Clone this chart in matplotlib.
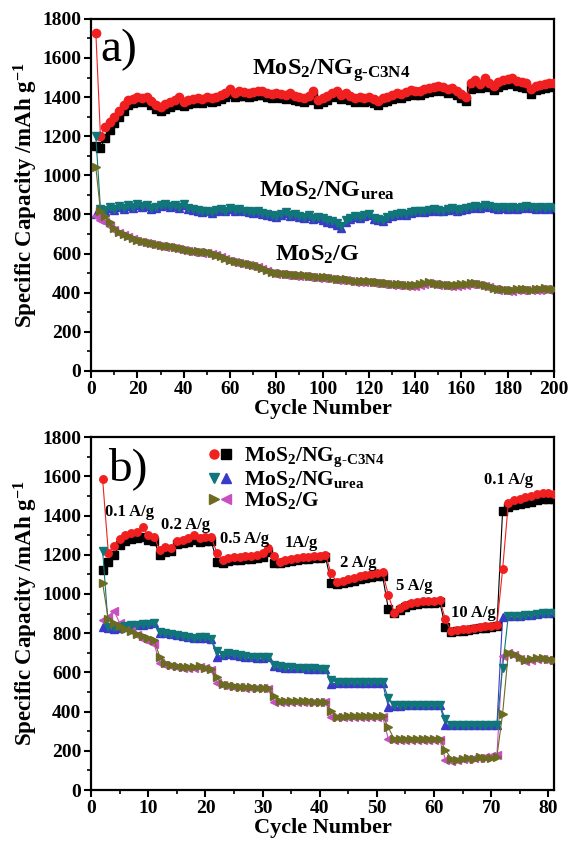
import numpy as np
import matplotlib
matplotlib.use('Agg')
import matplotlib.pyplot as plt
from matplotlib.legend_handler import HandlerTuple
from matplotlib.ticker import MultipleLocator

plt.rcParams['font.family'] = ['Liberation Serif', 'DejaVu Serif']
plt.rcParams['font.weight'] = 'bold'
plt.rcParams['mathtext.fontset'] = 'custom'
plt.rcParams['mathtext.rm'] = 'Liberation Serif:bold'
plt.rcParams['mathtext.it'] = 'Liberation Serif:bold'
plt.rcParams['mathtext.bf'] = 'Liberation Serif:bold'

# ---- panel a: cycling, every 2nd cycle starting at cycle 2 ----
a_red = [1730, 1200, 1245, 1275, 1300, 1330, 1360, 1385, 1390, 1400,
         1395, 1400, 1380, 1360, 1350, 1365, 1375, 1385, 1400, 1375,
         1385, 1390, 1395, 1390, 1400, 1395, 1400, 1410, 1420, 1440,
         1420, 1430, 1425, 1420, 1425, 1430, 1430, 1420, 1415, 1420,
         1415, 1410, 1420, 1405, 1400, 1395, 1405, 1430, 1385, 1395,
         1405, 1420, 1430, 1410, 1420, 1405, 1395, 1400, 1395, 1400,
         1390, 1380, 1395, 1400, 1410, 1420, 1415, 1425, 1435, 1430,
         1430, 1440, 1445, 1450, 1455, 1450, 1440, 1445, 1430, 1415,
         1400, 1470, 1485, 1465, 1500, 1470, 1455, 1475, 1485, 1490,
         1500, 1480, 1475, 1470, 1440, 1455, 1460, 1465, 1470, 1470]
a_black = [1150, 1140, 1190, 1230, 1265, 1300, 1330, 1360, 1370, 1380,
           1375, 1380, 1360, 1340, 1330, 1340, 1350, 1360, 1375, 1355,
           1365, 1370, 1375, 1370, 1380, 1375, 1380, 1390, 1400, 1415,
           1400, 1405, 1405, 1400, 1405, 1410, 1410, 1400, 1395, 1400,
           1395, 1390, 1400, 1385, 1380, 1375, 1385, 1405, 1365, 1375,
           1385, 1400, 1405, 1390, 1400, 1385, 1375, 1380, 1375, 1380,
           1370, 1360, 1375, 1380, 1390, 1400, 1395, 1405, 1415, 1410,
           1410, 1420, 1425, 1430, 1435, 1430, 1420, 1425, 1410, 1395,
           1380, 1440, 1460, 1445, 1470, 1450, 1435, 1450, 1460, 1465,
           1470, 1455, 1450, 1445, 1415, 1435, 1440, 1445, 1450, 1455]
a_teal = [1200, 830, 825, 840, 830, 845, 835, 850, 840, 855,
          845, 850, 835, 840, 850, 855, 845, 850, 840, 855,
          835, 830, 825, 815, 820, 810, 825, 830, 820, 835,
          825, 830, 820, 815, 810, 815, 805, 800, 795, 790,
          800, 810, 795, 800, 790, 785, 795, 780, 785, 780,
          770, 765, 755, 740, 770, 780, 790, 785, 795, 800,
          780, 775, 770, 785, 795, 800, 805, 800, 810, 815,
          820, 815, 825, 830, 825, 820, 830, 835, 825, 830,
          835, 840, 845, 840, 850, 845, 840, 835, 840, 835,
          840, 835, 840, 845, 840, 835, 840, 835, 838, 835]
a_blue = [800, 815, 820, 835, 825, 840, 830, 845, 835, 850,
          840, 845, 830, 835, 845, 850, 840, 845, 835, 850,
          830, 825, 820, 810, 815, 805, 820, 825, 815, 830,
          820, 825, 815, 810, 805, 810, 800, 795, 790, 785,
          795, 805, 790, 795, 785, 780, 790, 775, 780, 770,
          760, 755, 745, 730, 760, 775, 785, 780, 790, 795,
          775, 770, 765, 780, 790, 795, 800, 795, 805, 810,
          815, 810, 820, 825, 820, 815, 825, 830, 820, 825,
          830, 835, 840, 835, 845, 840, 835, 830, 835, 830,
          835, 830, 835, 840, 835, 830, 835, 830, 833, 830]
a_olive = [1040, 820, 790, 760, 730, 710, 700, 690, 680, 670,
           665, 660, 655, 650, 645, 640, 640, 635, 630, 625,
           620, 615, 615, 610, 610, 605, 595, 585, 575, 565,
           560, 555, 550, 545, 540, 535, 525, 515, 505, 500,
           500, 495, 495, 490, 490, 488, 485, 485, 482, 480,
           478, 475, 472, 470, 468, 465, 462, 460, 460, 458,
           455, 452, 450, 448, 446, 444, 442, 440, 438, 440,
           445, 450, 452, 448, 445, 442, 440, 438, 440, 442,
           445, 448, 450, 445, 440, 435, 425, 420, 418, 415,
           415, 418, 420, 418, 416, 418, 420, 422, 420, 420]
a_magenta = [790, 770, 760, 740, 720, 705, 695, 685, 675, 665,
             660, 655, 650, 645, 640, 635, 635, 630, 625, 620,
             615, 610, 610, 605, 605, 600, 590, 580, 570, 560,
             555, 550, 545, 540, 535, 530, 520, 510, 500, 495,
             495, 490, 490, 485, 485, 483, 480, 480, 477, 475,
             473, 470, 467, 465, 463, 460, 457, 455, 455, 453,
             450, 447, 445, 443, 441, 439, 437, 435, 433, 435,
             440, 445, 447, 443, 440, 437, 435, 433, 435, 437,
             440, 443, 445, 440, 435, 430, 420, 415, 413, 410,
             410, 413, 415, 413, 411, 413, 415, 417, 415, 415]

# ---- panel b: rate test, cycles 2..81 ----
b_red = [1585, 1210, 1245, 1280, 1300, 1310, 1315, 1340, 1300, 1290,
         1225, 1240, 1235, 1270, 1275, 1285, 1300, 1285, 1290, 1290,
         1210, 1175, 1185, 1190, 1190, 1195, 1195, 1200, 1210, 1235,
         1195, 1165, 1175, 1180, 1185, 1190, 1190, 1195, 1195, 1200,
         1105, 1060, 1065, 1075, 1080, 1090, 1095, 1100, 1105, 1110,
         995, 905, 930, 945, 955, 960, 965, 965, 965, 970,
         870, 810, 815, 820, 820, 825, 830, 835, 835, 840,
         1125, 1465, 1480, 1485, 1495, 1500, 1510, 1515, 1515, 1510]
b_black = [1120, 1165, 1200, 1250, 1270, 1280, 1285, 1290, 1275, 1270,
           1200, 1215, 1220, 1255, 1260, 1265, 1275, 1265, 1270, 1270,
           1165, 1160, 1170, 1175, 1175, 1180, 1180, 1185, 1190, 1215,
           1160, 1160, 1165, 1170, 1175, 1180, 1180, 1185, 1185, 1190,
           1055, 1050, 1055, 1060, 1065, 1075, 1080, 1085, 1090, 1090,
           925, 905, 920, 935, 945, 950, 955, 955, 955, 960,
           830, 805, 810, 810, 815, 820, 825, 825, 830, 835,
           1425, 1445, 1455, 1460, 1465, 1470, 1480, 1485, 1485, 1485]
b_teal = [1220, 830, 830, 830, 835, 840, 840, 845, 845, 850,
          805, 800, 795, 790, 785, 780, 775, 780, 780, 770,
          710, 690, 700, 695, 690, 685, 680, 680, 680, 680,
          640, 635, 630, 628, 625, 622, 620, 620, 618, 615,
          560, 550, 550, 550, 550, 550, 550, 550, 550, 550,
          470, 435, 435, 435, 435, 435, 435, 435, 435, 435,
          360, 330, 330, 330, 330, 330, 330, 330, 330, 330,
          625, 890, 890, 890, 895, 895, 900, 905, 905, 905]
b_blue = [830, 825, 820, 825, 830, 835, 840, 840, 845, 850,
          800, 800, 795, 790, 785, 780, 775, 775, 775, 770,
          680, 690, 695, 690, 685, 680, 680, 675, 675, 680,
          635, 630, 625, 625, 620, 620, 615, 615, 615, 615,
          540, 545, 545, 545, 545, 545, 545, 545, 545, 545,
          425, 430, 430, 432, 433, 434, 435, 435, 435, 435,
          330, 330, 330, 330, 330, 330, 330, 330, 330, 330,
          885, 890, 890, 890, 895, 895, 900, 905, 905, 905]
b_olive = [1055, 870, 850, 835, 820, 810, 795, 785, 775, 765,
           680, 650, 640, 635, 630, 630, 630, 635, 625, 615,
           575, 540, 535, 530, 528, 525, 525, 522, 520, 520,
           480, 455, 455, 455, 453, 452, 452, 450, 450, 450,
           405, 375, 375, 377, 378, 378, 380, 380, 380, 380,
           320, 260, 260, 260, 260, 260, 260, 260, 260, 260,
           205, 160, 155, 160, 165, 160, 170, 165, 165, 170,
           390, 700, 695, 680, 665, 670, 675, 675, 670, 665]
b_magenta = [865, 885, 915, 850, 830, 810, 790, 770, 760, 745,
             650, 640, 635, 630, 625, 625, 625, 630, 620, 610,
             545, 535, 530, 528, 525, 522, 520, 520, 520, 515,
             450, 450, 450, 450, 450, 450, 450, 450, 450, 450,
             370, 375, 375, 375, 375, 375, 375, 375, 375, 375,
             260, 255, 255, 255, 255, 255, 255, 255, 255, 255,
             155, 150, 155, 158, 160, 162, 165, 170, 172, 178,
             685, 700, 690, 670, 660, 665, 670, 670, 665, 660]

rate_labels = ['0.1 A/g', '0.2 A/g', '0.5 A/g', '1A/g', '2 A/g', '5 A/g', '10 A/g', '0.1 A/g']
rate_x = [2.4, 12.3, 22.5, 33.8, 43.5, 53.4, 63.0, 68.8]
rate_y = [1419, 1351, 1280, 1259, 1159, 1040, 905, 1580]

name_g = r'MoS$_\text{2}$/NG$_\text{g-C3N4}$'
name_u = r'MoS$_\text{2}$/NG$_\text{urea}$'
name_G = r'MoS$_\text{2}$/G'

RED = '#f02020'
TEAL = '#10767a'
BLUE = '#3a3ac8'
OLIVE = '#6b6b22'
MAG = '#c94fc0'

fig = plt.figure(figsize=(5.7, 8.41), dpi=100)
ax1 = fig.add_axes([0.160, 0.559, 0.812, 0.4186])
ax2 = fig.add_axes([0.160, 0.0606, 0.812, 0.4196])

# panel a
xa = np.arange(2, 2 + 2 * len(a_red), 2)
ms = 6.0
ax1.plot(xa, a_black, 's-', color='black', ms=ms, lw=0.8, zorder=2)
ax1.plot(xa, a_red, 'o-', color=RED, ms=ms, lw=0.8, zorder=3)
ax1.plot(xa, a_blue, '^-', color=BLUE, ms=ms, lw=0.8, zorder=2)
ax1.plot(xa, a_teal, 'v-', color=TEAL, ms=ms, lw=0.8, zorder=3)
ax1.plot(xa, a_magenta, '<-', color=MAG, ms=ms, lw=0.8, zorder=2)
ax1.plot(xa, a_olive, '>-', color=OLIVE, ms=ms, lw=0.8, zorder=3)

# panel b
xb = np.arange(2, 2 + len(b_red))
ms = 5.4
ax2.plot(xb, b_black, 's-', color='black', ms=ms, lw=0.8, zorder=2)
ax2.plot(xb, b_red, 'o-', color=RED, ms=ms, lw=0.8, zorder=3)
ax2.plot(xb, b_blue, '^-', color=BLUE, ms=ms, lw=0.8, zorder=2)
ax2.plot(xb, b_teal, 'v-', color=TEAL, ms=ms, lw=0.8, zorder=3)
ax2.plot(xb, b_magenta, '<-', color=MAG, ms=ms, lw=0.8, zorder=2)
ax2.plot(xb, b_olive, '>-', color=OLIVE, ms=ms, lw=0.8, zorder=3)

# legend with two markers per entry
h = lambda m, c: plt.Line2D([], [], marker=m, color=c, ls='none', ms=6.5)
ax2.legend([(h('o', RED), h('s', 'black')), (h('v', TEAL), h('^', BLUE)), (h('>', OLIVE), h('<', MAG))],
           [name_g, name_u, name_G], handler_map={tuple: HandlerTuple(ndivide=None, pad=0.1)},
           loc='upper left', bbox_to_anchor=(0.255, 0.975), frameon=False, fontsize=15.5,
           handlelength=1.0, handletextpad=0.6, labelspacing=0.0, borderaxespad=0, borderpad=0)

for ax, xmax, xmaj, xmin in [(ax1, 200, 20, 10), (ax2, 81, 10, 5)]:
    ax.set_xlim(0, xmax)
    ax.set_ylim(0, 1800)
    ax.xaxis.set_major_locator(MultipleLocator(xmaj))
    ax.xaxis.set_minor_locator(MultipleLocator(xmin))
    ax.yaxis.set_major_locator(MultipleLocator(200))
    ax.yaxis.set_minor_locator(MultipleLocator(100))
    ax.tick_params(which='major', direction='out', length=5, width=1.5, labelsize=14, pad=2)
    ax.tick_params(which='minor', direction='out', length=3, width=1.2)
    for lab in ax.get_xticklabels() + ax.get_yticklabels():
        lab.set_fontweight('bold')
    for sp in ax.spines.values():
        sp.set_linewidth(1.6)
    ax.set_xlabel('Cycle Number', fontsize=16, fontweight='bold', labelpad=1)
    ax.set_ylabel(r'Specific Capacity /mAh g$^{-1}$', fontsize=16.5, fontweight='bold', labelpad=2)

ax1.text(3.9, 1640, 'a)', fontsize=34, fontweight='normal', va='center', ha='left')
ax2.text(3.0, 1642, 'b)', fontsize=34, fontweight='normal', va='center', ha='left')

ax1.text(69.4, 1535, name_g, fontsize=17.5, va='center', ha='left')
ax1.text(72.5, 918, name_u, fontsize=17.5, va='center', ha='left')
ax1.text(79.5, 594, name_G, fontsize=17.5, va='center', ha='left')

for s, x, y in zip(rate_labels, rate_x, rate_y):
    ax2.text(x, y, s, fontsize=12, fontweight='bold', va='center', ha='left')

fig.savefig('out.png', dpi=100)
